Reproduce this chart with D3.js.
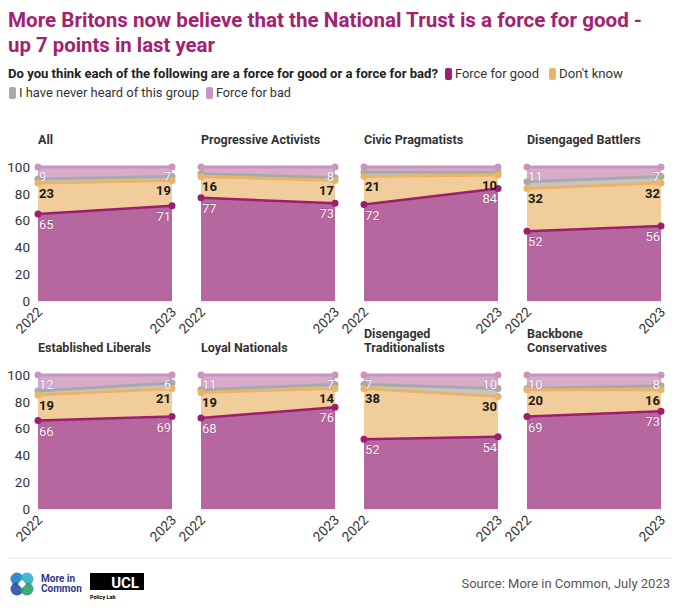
<!DOCTYPE html>
<html>
<head>
<meta charset="utf-8">
<script src="https://cdn.jsdelivr.net/npm/d3@7"></script>
<style>
  body { margin: 0; background: #fff; }
  svg { font-family: Roboto, "Noto Sans", sans-serif; }
</style>
</head>
<body>
<svg id="chart" width="680" height="614"></svg>
<script>
/*************************** data ***************************/
const years = ["2022", "2023"]
const groups = ["All", "Progressive Activists", "Civic Pragmatists", "Disengaged Battlers",
    "Established Liberals", "Loyal Nationals", "Disengaged Traditionalists", "Backbone Conservatives"]
const forceGood = [[65, 71], [77, 73], [72, 84], [52, 56], [66, 69], [68, 76], [52, 54], [69, 73]]
const dontKnow = [[23, 19], [16, 17], [21, 10], [32, 32], [19, 21], [19, 14], [38, 30], [20, 16]]
const neverHeard = [[3, 3], [2, 2], [3, 2], [5, 5], [3, 4], [2, 3], [3, 6], [1, 3]]
const forceBad = [[9, 7], [5, 8], [4, 4], [11, 7], [12, 6], [11, 7], [7, 10], [10, 8]]
const yTicks = [0, 20, 40, 60, 80, 100]

const keys = ["good", "dk", "never", "bad"]
const legendNames = { good: "Force for good", dk: "Don't know", never: "I have never heard of this group", bad: "Force for bad" }
const lineColor = { good: "#9c1f6f", dk: "#eab466", never: "#a9a9a9", bad: "#c995bf" }
const areaColor = { good: "#b6679f", dk: "#f1cd9b", never: "#c9c3c6", bad: "#d6abcc" }

/*************************** layout ***************************/
const svg = d3.select("#chart")
const colX = [38, 201, 364, 527]
const rowY = [167, 375]
const pw = 134, ph = 134

// title
svg.append("text").attr("x", 8).attr("y", 27)
    .attr("font-size", 20.5).attr("font-weight", 700).attr("fill", "#a3216f")
    .attr("textLength", 634).attr("lengthAdjust", "spacingAndGlyphs")
    .text("More Britons now believe that the National Trust is a force for good -")
svg.append("text").attr("x", 8).attr("y", 52)
    .attr("font-size", 20.5).attr("font-weight", 700).attr("fill", "#a3216f")
    .attr("textLength", 207).attr("lengthAdjust", "spacingAndGlyphs")
    .text("up 7 points in last year")

// subtitle + legend
const sub = svg.append("g").attr("font-size", 13).attr("fill", "#222")
sub.append("text").attr("x", 8).attr("y", 78).attr("font-weight", 700)
    .attr("textLength", 430).attr("lengthAdjust", "spacingAndGlyphs")
    .text("Do you think each of the following are a force for good or a force for bad?")
const legendPos = [
    { k: "good", x: 445, y: 78, w: 84 }, { k: "dk", x: 549, y: 78, w: 64 },
    { k: "never", x: 9, y: 97, w: 180 }, { k: "bad", x: 206, y: 97, w: 75 }]
legendPos.forEach(p => {
    sub.append("rect").attr("x", p.x).attr("y", p.y - 10).attr("width", 7).attr("height", 12)
        .attr("rx", 2).attr("fill", lineColor[p.k])
    sub.append("text").attr("x", p.x + 10).attr("y", p.y).attr("fill", "#333")
        .attr("textLength", p.w).attr("lengthAdjust", "spacingAndGlyphs").text(legendNames[p.k])
})

const xScale = d3.scaleLinear().domain([0, 1])
const yScale = d3.scaleLinear().domain([0, 100])

function drawPanel(gi) {
    const x0 = colX[gi % 4], y0 = rowY[Math.floor(gi / 4)]
    const g = svg.append("g")
    const x = xScale.copy().range([x0, x0 + pw])
    const y = yScale.copy().range([y0 + ph, y0])

    const rows = years.map((yr, i) => ({
        i: i, good: forceGood[gi][i], dk: dontKnow[gi][i], never: neverHeard[gi][i], bad: forceBad[gi][i]
    }))
    const stacked = d3.stack().keys(keys)(rows)

    // title (bottom aligned), wrap long names
    const words = groups[gi]
    let lines = [words]
    if (words.length > 21) {
        const sp = words.indexOf(" ")
        lines = [words.slice(0, sp), words.slice(sp + 1)]
    }
    const baseY = y0 - 23
    lines.forEach((l, li) => {
        g.append("text").attr("x", x0).attr("y", baseY - (lines.length - 1 - li) * 14)
            .attr("font-size", 12.5).attr("font-weight", 700).attr("fill", "#333").text(l)
    })

    // grid + y axis (first column only)
    yTicks.forEach(t => {
        g.append("line").attr("x1", x0).attr("x2", x0 + pw).attr("y1", y(t)).attr("y2", y(t))
            .attr("stroke", "#ececec")
    })
    if (gi % 4 == 0) {
        g.append("g").attr("transform", "translate(" + (x0 - 8) + ",0)")
            .call(d3.axisLeft(y).tickValues(yTicks).tickSize(0).tickPadding(0))
            .call(a => a.select(".domain").remove())
            .selectAll("text").attr("font-size", 13.5).attr("fill", "#333").attr("font-family", "Roboto, sans-serif")
    }

    const area = d3.area().x(d => x(d.data.i)).y0(d => y(d[0])).y1(d => y(d[1]))
    const line = d3.line().x(d => x(d.data.i)).y(d => y(d[1]))

    stacked.forEach(s => {
        g.append("path").datum(s).attr("d", area).attr("fill", areaColor[s.key])
    })
    // draw lines top-down so lower series sit on top
    stacked.slice().reverse().forEach(s => {
        g.append("path").datum(s).attr("d", line).attr("fill", "none")
            .attr("stroke", lineColor[s.key]).attr("stroke-width", s.key == "good" ? 2.5 : 3)
        g.selectAll(null).data(s).enter().append("circle")
            .attr("cx", d => x(d.data.i)).attr("cy", d => y(d[1])).attr("r", 3.5)
            .attr("fill", lineColor[s.key])
    })

    // value labels
    const lbl = (s, col, halo, dy) => {
        s.forEach((d, i) => {
            const v = d.data[s.key]
            if (s.key == "bad" && v < 6) return
            g.append("text")
                .attr("x", i == 0 ? x(0) + 1 : x(1) - 1)
                .attr("y", y(d[1]) + dy)
                .attr("text-anchor", i == 0 ? "start" : "end")
                .attr("font-size", 13).attr("font-weight", s.key == "dk" ? 700 : 400)
                .attr("fill", col)
                .attr("stroke", halo).attr("stroke-width", halo == "none" ? 0 : 0.6)
                .attr("paint-order", "stroke")
                .text(v)
        })
    }
    lbl(stacked[0], "#fff", "#8a2a6a", 15)
    lbl(stacked[1], "#1e1a14", "none", 15)
    lbl(stacked[3], "#fff", "#a56b96", 14)

    // x labels
    years.forEach((yr, i) => {
        g.append("text")
            .attr("transform", "translate(" + (x(i) + 5) + "," + (y0 + ph + 12) + ") rotate(-45)")
            .attr("text-anchor", "end").attr("font-size", 13.5).attr("fill", "#333")
            .text(yr)
    })
}
groups.forEach((d, gi) => drawPanel(gi))

/*************************** footer ***************************/
svg.append("line").attr("x1", 8).attr("x2", 672).attr("y1", 558).attr("y2", 558)
    .attr("stroke", "#e4e4e4")
const logo = svg.append("g").attr("transform", "translate(22,584)")
const petals = [[-5, -5, "#1f7fc4"], [5, -5, "#2fb3c9"], [-5, 5, "#2653a3"], [5, 5, "#29a26b"]]
petals.forEach(p => logo.append("circle").attr("cx", p[0]).attr("cy", p[1]).attr("r", 6.5).attr("fill", p[2]).attr("opacity", 0.9))
logo.append("rect").attr("x", -3).attr("y", -3).attr("width", 6).attr("height", 6)
    .attr("transform", "rotate(45)").attr("fill", "#fff")
svg.append("text").attr("x", 41).attr("y", 582).attr("font-size", 10).attr("font-weight", 700)
    .attr("fill", "#2b3a8f").text("More in")
svg.append("text").attr("x", 41).attr("y", 592).attr("font-size", 10).attr("font-weight", 700)
    .attr("fill", "#2b3a8f").text("Common")
svg.append("rect").attr("x", 90).attr("y", 573).attr("width", 54).attr("height", 17).attr("fill", "#000")
svg.append("text").attr("x", 139).attr("y", 588).attr("text-anchor", "end").attr("font-size", 15)
    .attr("font-weight", 700).attr("fill", "#fff").text("UCL")
svg.append("text").attr("x", 90).attr("y", 599).attr("font-size", 5.5).attr("font-weight", 700)
    .attr("fill", "#000").text("Policy Lab")
svg.append("text").attr("x", 670).attr("y", 588).attr("text-anchor", "end")
    .attr("font-size", 13).attr("fill", "#555").text("Source: More in Common, July 2023")
</script>
</body>
</html>
